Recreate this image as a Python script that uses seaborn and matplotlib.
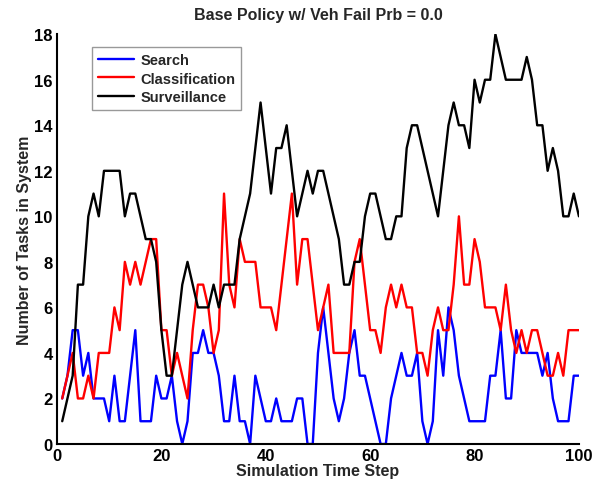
import matplotlib
matplotlib.use("Agg")
import matplotlib.pyplot as plt
import pandas as pd
import seaborn as sns

steps = list(range(1, 101))

search = [2, 3, 5, 5, 3, 4, 2, 2, 2, 1, 3, 1, 1, 3, 5, 1, 1, 1, 3, 2,
          2, 3, 1, 0, 1, 4, 4, 5, 4, 4, 3, 1, 1, 3, 1, 1, 0, 3, 2, 1,
          1, 2, 1, 1, 1, 2, 2, 0, 0, 4, 6, 4, 2, 1, 2, 4, 5, 3, 3, 2,
          1, 0, 0, 2, 3, 4, 3, 3, 4, 1, 0, 1, 5, 3, 6, 5, 3, 2, 1, 1,
          1, 1, 3, 3, 5, 2, 2, 5, 4, 4, 4, 4, 3, 4, 2, 1, 1, 1, 3, 3]

classification = [2, 3, 4, 2, 2, 3, 2, 4, 4, 4, 6, 5, 8, 7, 8, 7, 8, 9, 9, 5,
                  5, 3, 4, 3, 2, 5, 7, 7, 6, 4, 5, 11, 7, 6, 9, 8, 8, 8, 6, 6,
                  6, 5, 7, 9, 11, 7, 9, 9, 7, 5, 6, 7, 4, 4, 4, 4, 8, 9, 7, 5,
                  5, 4, 6, 7, 6, 7, 6, 6, 4, 4, 3, 5, 6, 5, 5, 7, 10, 7, 7, 9,
                  8, 6, 6, 6, 5, 7, 5, 4, 5, 4, 5, 5, 4, 3, 3, 4, 3, 5, 5, 5]

surveillance = [1, 2, 3, 7, 7, 10, 11, 10, 12, 12, 12, 12, 10, 11, 11, 10, 9, 9, 8, 5,
                3, 3, 5, 7, 8, 7, 6, 6, 6, 7, 6, 7, 7, 7, 9, 10, 11, 13, 15, 13,
                11, 13, 13, 14, 12, 10, 11, 12, 11, 12, 12, 11, 10, 9, 7, 7, 8, 8, 10, 11,
                11, 10, 9, 9, 10, 10, 13, 14, 14, 13, 12, 11, 10, 12, 14, 15, 14, 14, 13, 16,
                15, 16, 16, 18, 17, 16, 16, 16, 16, 17, 16, 14, 14, 12, 13, 12, 10, 10, 11, 10]

series_names = ["Search", "Classification", "Surveillance"]
series_colors = {"Search": "#0000ff", "Classification": "#ff0000", "Surveillance": "#000000"}

x_ticks = [0, 20, 40, 60, 80, 100]
y_ticks = [0, 2, 4, 6, 8, 10, 12, 14, 16, 18]

sns.set_style("white")
plt.rcParams["font.family"] = ["Liberation Sans", "DejaVu Sans"]
plt.rcParams["font.weight"] = "bold"
plt.rcParams["axes.labelweight"] = "bold"
plt.rcParams["axes.titleweight"] = "bold"

df = pd.DataFrame({
    "step": steps * 3,
    "tasks": search + classification + surveillance,
    "series": ["Search"] * len(steps) + ["Classification"] * len(steps)
              + ["Surveillance"] * len(steps),
})

fig = plt.figure(figsize=(6.02, 4.89), dpi=100)
ax = fig.add_axes([0.0947, 0.090, 0.867, 0.838])

sns.lineplot(data=df, x="step", y="tasks", hue="series", hue_order=series_names,
             palette=series_colors, linewidth=1.7, ax=ax, legend=False)

ax.set_xlim(0, 100)
ax.set_ylim(0, 18)
ax.set_xticks(x_ticks)
ax.set_yticks(y_ticks)
ax.tick_params(direction="in", length=5, width=1.2, labelsize=12,
               colors="black", pad=3)
for lab in ax.get_xticklabels() + ax.get_yticklabels():
    lab.set_fontweight("bold")

for side in ["top", "right"]:
    ax.spines[side].set_visible(False)
for side in ["left", "bottom"]:
    ax.spines[side].set_color("black")
    ax.spines[side].set_linewidth(1.5)

ax.set_xlabel("Simulation Time Step", fontsize=11.5, fontweight="bold", labelpad=0)
ax.set_ylabel("Number of Tasks in System", fontsize=11.5, fontweight="bold", labelpad=2)
ax.set_title("Base Policy w/ Veh Fail Prb = 0.0", fontsize=11.5, fontweight="bold", pad=11)

handles = [plt.Line2D([], [], color=series_colors[n], linewidth=1.7) for n in series_names]
leg = ax.legend(handles, series_names, loc="upper left",
                bbox_to_anchor=(0.067, 0.968), borderaxespad=0,
                fancybox=False, frameon=True, edgecolor="#808080",
                handlelength=2.5, handletextpad=0.4, labelspacing=0.3,
                borderpad=0.4, prop={"size": 10.5, "weight": "bold"})
leg.get_frame().set_linewidth(1.0)

fig.savefig("out.png", dpi=100, facecolor="white")
